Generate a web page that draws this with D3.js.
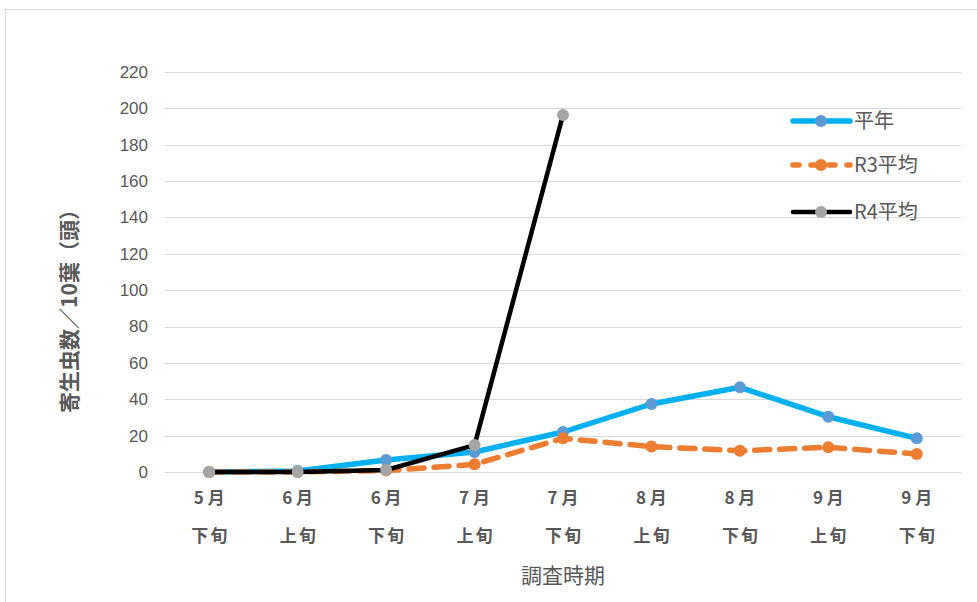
<!DOCTYPE html>
<html>
<head>
<meta charset="utf-8">
<script src="https://cdn.jsdelivr.net/npm/d3@7"></script>
<style>
  body { margin: 0; background: #fff; }
  svg { display: block; font-family: "Noto Sans CJK JP", "Noto Sans", sans-serif; }
</style>
</head>
<body>
<div id="chart"></div>
<script>
// datos
var months = ["5月", "6月", "6月", "7月", "7月", "8月", "8月", "9月", "9月"];
var periods = ["下旬", "上旬", "下旬", "上旬", "下旬", "上旬", "下旬", "上旬", "下旬"];
var heinen = [0, 0.5, 6.6, 11, 22, 37.4, 46.6, 30.4, 18.5];
var r3 = [0, 0, 0.8, 4.2, 18.5, 14, 11.7, 13.6, 9.9];
var r4 = [0, 0, 1.1, 14.8, 196.4, null, null, null, null];
var yTicks = [0, 20, 40, 60, 80, 100, 120, 140, 160, 180, 200, 220];
var seriesNames = ["平年", "R3平均", "R4平均"];

var width = 977;
var height = 602;
var plotLeft = 165, plotRight = 961, plotTop = 72, plotBottom = 472;

var svg = d3.select('#chart')
    .append('svg')
    .attr('width', width)
    .attr('height', height);

// marco
svg.append('rect')
    .attr('x', 5.5)
    .attr('y', 9.5)
    .attr('width', 990)
    .attr('height', 620)
    .attr('fill', 'none')
    .attr('stroke', '#d9d9d9')
    .attr('stroke-width', 1);

var cats = d3.range(months.length);

var xscale = d3.scaleBand()
    .domain(cats)
    .range([plotLeft, plotRight]);

var yscale = d3.scaleLinear()
    .domain([0, 220])
    .range([plotBottom, plotTop]);

var cx = function(i) { return xscale(i) + xscale.bandwidth() / 2; };

// lineas de rejilla
svg.append('g')
    .selectAll('line')
    .data(yTicks)
    .enter()
    .append('line')
    .attr('x1', plotLeft)
    .attr('x2', plotRight)
    .attr('y1', d => Math.round(yscale(d)) + 0.5)
    .attr('y2', d => Math.round(yscale(d)) + 0.5)
    .attr('stroke', '#d9d9d9')
    .attr('stroke-width', 1);

// etiquetas eje Y
var yaxis = d3.axisLeft(yscale).tickValues(yTicks).tickSize(0).tickPadding(0);
var gy = svg.append('g')
    .attr('transform', 'translate(148,0)')
    .call(yaxis);
gy.select('.domain').remove();
gy.selectAll('text')
    .attr('fill', '#595959')
    .style('font-size', '17px')
    .style('font-family', '"Liberation Sans", sans-serif');

// etiquetas eje X (dos lineas)
var xlab = svg.append('g')
    .selectAll('g')
    .data(cats)
    .enter()
    .append('g');
xlab.append('text')
    .attr('x', d => cx(d))
    .attr('y', 504)
    .attr('text-anchor', 'middle')
    .attr('fill', '#595959')
    .attr('font-weight', 700)
    .style('font-size', '17px')
    .text(d => months[d].replace('月', ' 月'));
xlab.append('text')
    .attr('x', d => cx(d) + 1)
    .attr('y', 542)
    .attr('text-anchor', 'middle')
    .attr('fill', '#595959')
    .attr('font-weight', 700)
    .style('font-size', '17px')
    .style('letter-spacing', '2px')
    .text(d => periods[d]);

// titulo eje X
svg.append('text')
    .attr('x', 563)
    .attr('y', 583)
    .attr('text-anchor', 'middle')
    .attr('fill', '#595959')
    .style('font-size', '21px')
    .text('調査時期');

// titulo eje Y
svg.append('text')
    .attr('transform', 'translate(77,306) rotate(-90)')
    .attr('text-anchor', 'middle')
    .attr('fill', '#595959')
    .attr('font-weight', 700)
    .style('font-size', '21px')
    .text('寄生虫数／10葉（頭）');

// series
var series = [
    { name: seriesNames[0], values: heinen, line: '#00b0f0', dot: '#5b9bd5', w: 5.5, dash: null },
    { name: seriesNames[1], values: r3, line: '#ed7d31', dot: '#ed7d31', w: 5.5, dash: '15,10' },
    { name: seriesNames[2], values: r4, line: '#000000', dot: '#a5a5a5', w: 4.5, dash: null }
];

var line = d3.line()
    .defined(d => d.v !== null)
    .x(d => cx(d.i))
    .y(d => yscale(d.v));

series.forEach(function(s) {
    var pts = s.values.map((v, i) => ({ i: i, v: v }));
    svg.append('path')
        .datum(pts)
        .attr('d', line)
        .attr('fill', 'none')
        .attr('stroke', s.line)
        .attr('stroke-width', s.w)
        .attr('stroke-linejoin', 'round')
        .attr('stroke-linecap', 'round')
        .attr('stroke-dasharray', s.dash);
    svg.append('g')
        .selectAll('circle')
        .data(pts.filter(d => d.v !== null))
        .enter()
        .append('circle')
        .attr('cx', d => cx(d.i))
        .attr('cy', d => yscale(d.v))
        .attr('r', 6)
        .attr('fill', s.dot);
});

// leyenda
var legend = svg.append('g')
    .selectAll('g')
    .data(series)
    .enter()
    .append('g')
    .attr('transform', (d, i) => 'translate(0,' + [121, 165, 212][i] + ')');
legend.append('line')
    .attr('x1', 793)
    .attr('x2', 850)
    .attr('stroke', d => d.line)
    .attr('stroke-width', d => d.w)
    .attr('stroke-linecap', 'round')
    .attr('stroke-dasharray', d => d.dash ? '6,12' : null);
legend.append('circle')
    .attr('cx', 821)
    .attr('r', 6)
    .attr('fill', d => d.dot);
legend.append('text')
    .attr('x', 854)
    .attr('y', 7)
    .attr('fill', '#595959')
    .style('font-size', '20px')
    .text(d => d.name);
</script>
</body>
</html>
